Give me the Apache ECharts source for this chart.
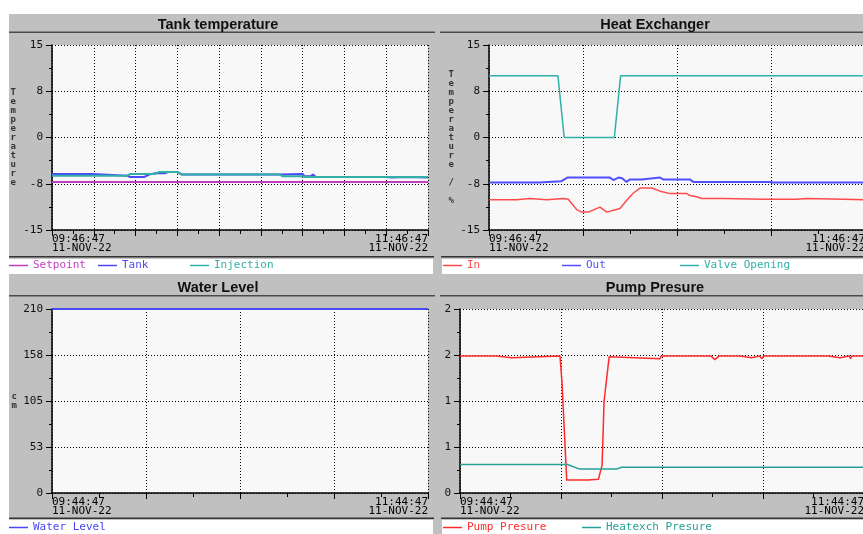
<!DOCTYPE html>
<html>
<head>
<meta charset="utf-8">
<title>Trends</title>
<script src="https://cdn.jsdelivr.net/npm/echarts@6.0.0/dist/echarts.min.js"></script>
<style>
  html, body { margin: 0; padding: 0; background: #fff; overflow: hidden; }
  #main { width: 880px; height: 534px; }
</style>
</head>
<body>
<div id="main"></div>
<script>
// tick labels as shown on the trend screens
const tempTicks = ["-15", "-8", "0", "8", "15"];
const levelTicks = ["0", "53", "105", "158", "210"];
const pressTicks = ["0", "1", "1", "2", "2"];
const upperTimes = ["09:46:47\n11-NOV-22", "11:46:47\n11-NOV-22"];
const lowerTimes = ["09:44:47\n11-NOV-22", "11:44:47\n11-NOV-22"];

// [minutes from start of window, value]
const setpoint = [[0, -7.2], [60, -7.2], [120, -7.2]];
const tank = [[0, -5.9], [13, -5.9], [13.5, -6.2], [24, -6.2], [25, -6.4], [29.5, -6.4], [31, -6.0],
  [33, -5.8], [36, -5.8], [37, -5.6], [40, -5.6], [41.5, -6.0], [72.8, -6.0], [73.2, -5.9], [80, -5.9],
  [80.6, -6.3], [82.5, -6.3], [83.3, -6.0], [84.2, -6.4], [106.6, -6.4], [107, -6.5], [108.5, -6.5],
  [109, -6.4], [112.7, -6.4], [113, -6.5], [120, -6.5]];
const injection = [[0, -6.2], [24, -6.2], [25, -5.9], [33, -5.9], [34, -5.6], [40, -5.6], [41.5, -6.0],
  [72.8, -6.0], [73.5, -6.3], [80, -6.3], [81, -6.4], [120, -6.4]];

const hxIn = [[0, -10.1], [8.8, -10.1], [9, -9.9], [13, -9.9], [13.3, -10.1], [18.4, -10.1], [18.7, -9.9],
  [23.7, -9.9], [25.3, -10.0], [28, -11.7], [29.5, -12.1], [31.7, -12.1], [35.4, -11.3], [37.6, -12.1],
  [41.8, -11.5], [43.9, -10.2], [46.1, -9.0], [48.2, -8.2], [51.9, -8.2], [54.6, -8.7], [57.8, -9.1],
  [63.1, -9.1], [64.1, -9.4], [66.3, -9.6], [67.9, -9.9], [74.8, -9.9], [75.2, -10.1], [87.5, -10.0],
  [98.2, -10.0], [98.5, -9.9], [101.4, -9.9], [101.7, -10.0], [113.1, -10.0], [113.5, -10.1], [120, -10.1]];
const hxOut = [[0, -7.3], [16, -7.3], [16.5, -7.1], [23, -7.1], [25, -6.5], [38.6, -6.5], [39.7, -6.9],
  [41.3, -6.5], [42.5, -6.6], [43.9, -7.2], [45, -6.8], [48.7, -6.8], [49.2, -6.5], [54.6, -6.5],
  [55.6, -6.8], [64.1, -6.8], [65.2, -7.2], [89.7, -7.2], [90.7, -7.3], [120, -7.3]];
const valveOpening = [[0, 10], [22, 10], [24, 0], [40, 0], [42, 10], [120, 10]];

const waterLevel = [[0, 210], [60, 210], [120, 210]];

const pumpPressure = [[0, 1.49], [10.9, 1.49], [11.2, 1.47], [15.3, 1.47], [15.6, 1.49], [29.7, 1.49],
  [30.3, 1.2], [31.7, 0.14], [38, 0.14], [41.1, 0.15], [42.2, 0.3], [42.8, 1.0], [44.3, 1.48], [44.8, 1.46],
  [59.4, 1.46], [59.8, 1.49], [74.5, 1.49], [75.7, 1.45], [77, 1.49], [83.2, 1.49], [83.5, 1.47],
  [86.6, 1.47], [87, 1.49], [89, 1.49], [89.6, 1.46], [90.3, 1.49], [109.4, 1.49], [109.7, 1.47],
  [112.9, 1.47], [113.2, 1.49], [115.6, 1.49], [116, 1.46], [116.5, 1.49], [120, 1.49]];
const heatexchPressure = [[0, 0.31], [31.9, 0.31], [35.6, 0.26], [46.5, 0.26], [48, 0.28], [120, 0.28]];

const mono = "'DejaVu Sans Mono', monospace";
const colors = {
  "Setpoint": "#c040c0",
  "Tank": "#4a4af6",
  "Injection": "#30b0a6",
  "In": "#ff4a4a",
  "Out": "#5050ff",
  "Valve Opening": "#30b0a6",
  "Water Level": "#4848f4",
  "Pump Presure": "#ff2a2a",
  "Heatexch Presure": "#26a096"
};

const toSec = pts => pts.map(p => [p[0] * 60, p[1]]);
const dotted = { show: true, lineStyle: { color: "#000", type: [1, 2], width: 1 } };

function xAxis(gridIndex, interval, labels) {
  return {
    type: "value", gridIndex: gridIndex, min: 0, max: 7200, interval: interval,
    axisLine: { show: true, onZero: false, lineStyle: { color: "#000", width: 1.5 } },
    axisTick: { show: true, length: 6, lineStyle: { color: "#000" } },
    minorTick: { show: true, splitNumber: 2, length: 4, lineStyle: { color: "#000" } },
    splitLine: dotted,
    axisLabel: {
      formatter: v => (v === 0 ? labels[0] : v === 7200 ? labels[1] : ""),
      alignMinLabel: "left", alignMaxLabel: "right",
      fontFamily: mono, fontSize: 11, lineHeight: 9, color: "#000", margin: 5
    }
  };
}

function yAxis(gridIndex, min, max, ticks, name, nameGap) {
  const step = (max - min) / 4;
  return {
    type: "value", gridIndex: gridIndex, min: min, max: max, interval: step,
    axisLine: { show: true, onZero: false, lineStyle: { color: "#000", width: 1.5 } },
    axisTick: { show: true, length: 6, lineStyle: { color: "#000" } },
    minorTick: { show: true, splitNumber: 2, length: 3, lineStyle: { color: "#000" } },
    splitLine: dotted,
    axisLabel: {
      formatter: v => ticks[Math.round((v - min) / step)],
      fontFamily: mono, fontSize: 11, color: "#111", margin: 9
    },
    name: name.split("").join("\n"),
    nameLocation: "middle", nameRotate: 0, nameGap: nameGap,
    nameTextStyle: { fontFamily: mono, fontSize: 9, fontWeight: "bold", lineHeight: 9, color: "#333" }
  };
}

function line(name, data, axis, width) {
  return {
    name: name, type: "line", xAxisIndex: axis, yAxisIndex: axis,
    data: toSec(data), showSymbol: false, clip: false, animation: false,
    lineStyle: { color: colors[name], width: width }, itemStyle: { color: colors[name] }
  };
}

const titleStyle = { fontFamily: "'Liberation Sans', Arial, sans-serif", fontSize: 14.5, fontWeight: "bold", color: "#111" };
const legendSpots = [
  ["Setpoint", 9, 260], ["Tank", 98, 260], ["Injection", 190, 260],
  ["In", 443, 260], ["Out", 562, 260], ["Valve Opening", 680, 260],
  ["Water Level", 9, 522], ["Pump Presure", 443, 522], ["Heatexch Presure", 582, 522]
];

const chart = echarts.init(document.getElementById("main"), null, { renderer: "canvas" });

const option = {
  animation: false,
  title: [
    { text: "Tank temperature", left: 218, top: 17, textAlign: "center", padding: 0, textStyle: titleStyle },
    { text: "Heat Exchanger", left: 655, top: 17, textAlign: "center", padding: 0, textStyle: titleStyle },
    { text: "Water Level", left: 218, top: 280, textAlign: "center", padding: 0, textStyle: titleStyle },
    { text: "Pump Presure", left: 655, top: 280, textAlign: "center", padding: 0, textStyle: titleStyle }
  ],
  graphic: [
    { type: "rect", z: -10, shape: { x: 9, y: 14, width: 871, height: 520 }, style: { fill: "#c0c0c0" } },
    // title underlines and legend separators
    { type: "rect", z: -9, shape: { x: 9, y: 31.5, width: 426, height: 1.5 }, style: { fill: "#4a4a4a" } },
    { type: "rect", z: -9, shape: { x: 440, y: 31.5, width: 440, height: 1.5 }, style: { fill: "#4a4a4a" } },
    { type: "rect", z: -9, shape: { x: 9, y: 295, width: 426, height: 1.5 }, style: { fill: "#4a4a4a" } },
    { type: "rect", z: -9, shape: { x: 440, y: 295, width: 440, height: 1.5 }, style: { fill: "#4a4a4a" } },
    { type: "rect", z: -9, shape: { x: 9, y: 256, width: 425, height: 1.5 }, style: { fill: "#333" } },
    { type: "rect", z: -9, shape: { x: 441, y: 256, width: 440, height: 1.5 }, style: { fill: "#333" } },
    { type: "rect", z: -9, shape: { x: 9, y: 517.5, width: 425, height: 1.5 }, style: { fill: "#333" } },
    { type: "rect", z: -9, shape: { x: 441, y: 517.5, width: 440, height: 1.5 }, style: { fill: "#333" } },
    // legend strips
    { type: "rect", z: -9, shape: { x: 9, y: 259, width: 424, height: 15 }, style: { fill: "#fff" } },
    { type: "rect", z: -9, shape: { x: 442, y: 259, width: 440, height: 15 }, style: { fill: "#fff" } },
    { type: "rect", z: -9, shape: { x: 9, y: 520, width: 424, height: 14 }, style: { fill: "#fff" } },
    { type: "rect", z: -9, shape: { x: 442, y: 520, width: 440, height: 14 }, style: { fill: "#fff" } }
  ],
  legend: legendSpots.map(s => ({
    data: [s[0]], left: s[1], top: s[2], padding: 0, selectedMode: false,
    icon: "rect", itemWidth: 19, itemHeight: 1.5,
    textStyle: { fontFamily: mono, fontSize: 11, color: colors[s[0]] }
  })),
  grid: [
    { left: 52, top: 45, width: 376, height: 185 },
    { left: 489, top: 45, width: 376, height: 185 },
    { left: 52, top: 309, width: 376, height: 184 },
    { left: 460, top: 309, width: 404, height: 184 }
  ].map(g => Object.assign(g, { show: true, backgroundColor: "#f8f8f8", borderWidth: 0 })),
  xAxis: [
    xAxis(0, 800, upperTimes),
    xAxis(1, 1800, upperTimes),
    xAxis(2, 1800, lowerTimes),
    xAxis(3, 1800, lowerTimes)
  ],
  yAxis: [
    yAxis(0, -15, 15, tempTicks, "Temperature", 36),
    yAxis(1, -15, 15, tempTicks, "Temperature / %", 35),
    yAxis(2, 0, 210, levelTicks, "cm", 35),
    yAxis(3, 0, 2, pressTicks, "", 30)
  ],
  series: [
    line("Setpoint", setpoint, 0, 2),
    line("Tank", tank, 0, 2),
    line("Injection", injection, 0, 2),
    line("In", hxIn, 1, 1.5),
    line("Out", hxOut, 1, 2),
    line("Valve Opening", valveOpening, 1, 1.5),
    line("Water Level", waterLevel, 2, 2),
    line("Pump Presure", pumpPressure, 3, 1.5),
    line("Heatexch Presure", heatexchPressure, 3, 1.5)
  ]
};

chart.setOption(option);
</script>
</body>
</html>
